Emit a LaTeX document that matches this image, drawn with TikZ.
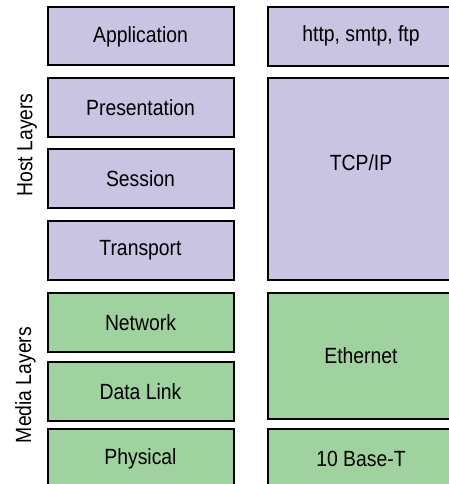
\documentclass[tikz,border=0pt]{standalone}
\usepackage{fontspec}
\setmainfont[FakeStretch=0.88]{Liberation Sans}
\definecolor{hostfill}{RGB}{200,196,226}
\definecolor{mediafill}{RGB}{160,210,160}
\tikzset{
  layerbox/.style={draw=black, line width=2pt, rectangle, inner sep=0pt,
    font=\fontsize{22}{26}\selectfont, text=black},
  hostbox/.style={layerbox, fill=hostfill},
  mediabox/.style={layerbox, fill=mediafill},
  leftcol/.style={minimum width=186pt},
  rightcol/.style={minimum width=187pt},
  grouplabel/.style={rotate=90, font=\fontsize{22}{26}\selectfont, inner sep=0pt}
}
\begin{document}
\begin{tikzpicture}[x=1pt, y=-1pt]
  \useasboundingbox (0,0) rectangle (449,484);
  \clip (0,0) rectangle (449,484);

  % OSI layers
  \node[hostbox, leftcol, minimum height=58pt] (app) at (140.5,36.5) {Application};
  \node[hostbox, leftcol, minimum height=59pt] (pres) at (140.5,107.5) {Presentation};
  \node[hostbox, leftcol, minimum height=59pt] (sess) at (140.5,178.6) {Session};
  \node[hostbox, leftcol, minimum height=59pt] (trans) at (140.5,250.5) {Transport};
  \node[mediabox, leftcol, minimum height=59pt] (net) at (140.5,322.2) {Network};
  \node[mediabox, leftcol, minimum height=59pt] (dl) at (140.5,391.2) {Data Link};
  \node[mediabox, leftcol, minimum height=59pt] (phys) at (140.5,458.5) {Physical};

  % Protocol stack
  \node[hostbox, rightcol, minimum height=58.5pt] (http) at (361,36.3) {http, smtp, ftp};
  \node[hostbox, rightcol, minimum height=202pt] (tcp) at (361,179) {};
  \node[font=\fontsize{22}{26}\selectfont, inner sep=0pt] (tcptext) at (361,163) {TCP/IP};
  \node[mediabox, rightcol, minimum height=126pt] (eth) at (361,355.5) {Ethernet};
  \node[mediabox, rightcol, minimum height=59pt] (base) at (361,458.5) {10 Base-T};

  % Group labels
  \node[grouplabel] (hostlbl) at (27,145) {Host Layers};
  \node[grouplabel] (medialbl) at (25.5,385) {Media Layers};
\end{tikzpicture}
\end{document}
